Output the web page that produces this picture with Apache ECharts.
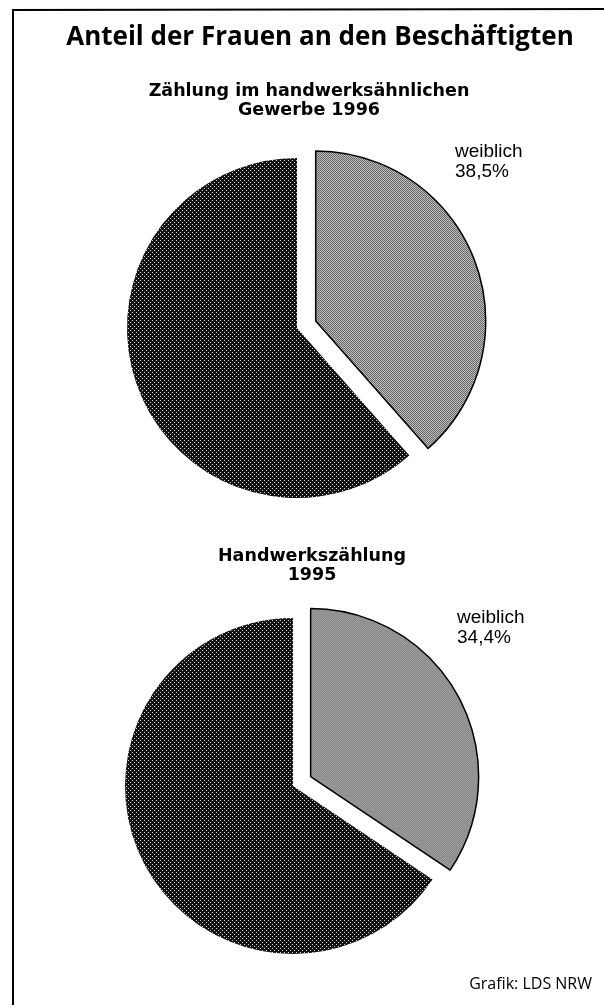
<!DOCTYPE html>
<html>
<head>
<meta charset="utf-8">
<script src="https://cdn.jsdelivr.net/npm/echarts@6/dist/echarts.min.js"></script>
<style>
  html, body { margin: 0; padding: 0; background: #fff; }
  #chart { width: 604px; height: 1005px; }
</style>
</head>
<body>
<div id="chart"></div>
<script>
const sliceNames = ["weiblich", "männlich"];
const share1996 = [38.5, 61.5];
const share1995 = [34.4, 65.6];
const pieTitles = ["Zählung im handwerksähnlichen\nGewerbe 1996", "Handwerkszählung\n1995"];
const mainTitle = "Anteil der Frauen an den Beschäftigten";
const source = "Grafik: LDS NRW";

// halftone screens like the printed original
function makePattern(w, h, base, dots, dotColor) {
  const c = document.createElement("canvas");
  c.width = w;
  c.height = h;
  const ctx = c.getContext("2d");
  ctx.fillStyle = base;
  ctx.fillRect(0, 0, w, h);
  ctx.fillStyle = dotColor;
  dots.forEach(([x, y]) => ctx.fillRect(x, y, 1, 1));
  return { image: c, repeat: "repeat" };
}

const darkFill = makePattern(4, 4, "#141414", [[0, 0], [2, 2]], "#d0d0d0");
const lightFill = makePattern(2, 2, "#f6f6f6", [[0, 0], [1, 1]], "#303030");

const fmt = (v) => v.toFixed(1).replace(".", ",") + "%";

function pieSeries(values, center, radius) {
  const styles = [
    { color: lightFill, borderColor: "#000", borderWidth: 1.5 },
    { color: darkFill, borderColor: "#111", borderWidth: 0 },
  ];
  return {
    type: "pie",
    center: center,
    radius: radius,
    startAngle: 90,
    clockwise: true,
    selectedMode: "single",
    selectedOffset: 20,
    label: { show: false },
    labelLine: { show: false },
    emphasis: { disabled: true },
    animation: false,
    data: values.map((v, i) => ({
      name: sliceNames[i],
      value: v,
      selected: i === 0,
      itemStyle: styles[i],
      select: { itemStyle: styles[i] },
    })),
  };
}

const chart = echarts.init(document.getElementById("chart"));

const subStyle = { fontFamily: "DejaVu Sans", fontWeight: "bold", fontSize: 17.5, lineHeight: 19, color: "#000" };
const labelStyle = { fontFamily: "Liberation Sans", fontWeight: "normal", fontSize: 19, lineHeight: 20, color: "#000" };

chart.setOption({
  backgroundColor: "#fff",
  title: [
    {
      text: mainTitle,
      left: 320, top: 38, textAlign: "center", textVerticalAlign: "middle", padding: 0,
      textStyle: { fontFamily: "Open Sans", fontWeight: "bold", fontSize: 26, color: "#000" },
    },
    {
      text: pieTitles[0],
      left: 309, top: 101, textAlign: "center", textVerticalAlign: "middle", padding: 0,
      textStyle: subStyle,
    },
    {
      text: pieTitles[1],
      left: 312, top: 566, textAlign: "center", textVerticalAlign: "middle", padding: 0,
      textStyle: subStyle,
    },
    {
      text: sliceNames[0] + "\n" + fmt(share1996[0]),
      left: 455, top: 142, padding: 0,
      textStyle: labelStyle,
    },
    {
      text: sliceNames[0] + "\n" + fmt(share1995[0]),
      left: 457, top: 608, padding: 0,
      textStyle: labelStyle,
    },
    {
      text: source,
      right: 12, top: 984, textVerticalAlign: "middle", padding: 0,
      textStyle: { fontFamily: "Open Sans", fontWeight: "normal", fontSize: 16, color: "#000" },
    },
  ],
  graphic: [
    { type: "line", shape: { x1: 12, y1: 10, x2: 604, y2: 9 }, style: { stroke: "#000", lineWidth: 2 } },
    { type: "line", shape: { x1: 13, y1: 9, x2: 13, y2: 1005 }, style: { stroke: "#000", lineWidth: 2 } },
  ],
  series: [
    pieSeries(share1996, [297, 328], 170),
    pieSeries(share1995, [293, 786], 168),
  ],
});
</script>
</body>
</html>
